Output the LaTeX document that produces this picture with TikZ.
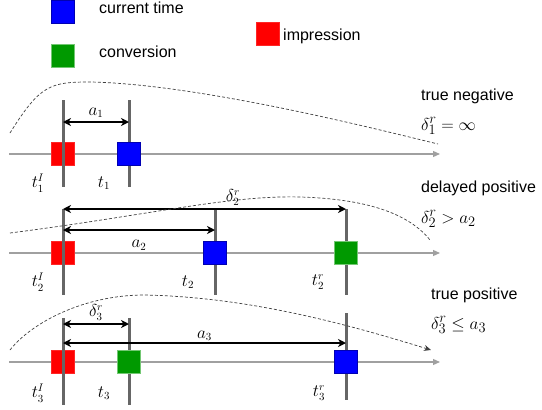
\documentclass[tikz,border=0pt]{standalone}
\usepackage{fontspec}
\setsansfont{Liberation Sans}
\usetikzlibrary{positioning,arrows.meta,backgrounds}
\definecolor{impred}{HTML}{FF0000}
\definecolor{curblue}{HTML}{0000FF}
\definecolor{convgreen}{HTML}{009900}
\definecolor{axisgray}{HTML}{A0A0A0}
\definecolor{bargray}{HTML}{666666}

\begin{document}
\begin{tikzpicture}[x=1pt, y=-1pt,
  sq/.style={minimum size=23pt, inner sep=0pt, line width=0.6pt},
  imp/.style={sq, fill=impred, draw=impred!85},
  cur/.style={sq, fill=curblue, draw=curblue!70!black},
  conv/.style={sq, fill=convgreen, draw=convgreen!55!white},
  axis/.style={draw=axisgray, line width=1.2pt, -{Triangle[length=7pt, width=6pt]}},
  bar/.style={draw=bargray, line width=3pt},
  dim/.style={{Stealth[length=8pt, width=8pt, inset=2.5pt]}-{Stealth[length=8pt, width=8pt, inset=2.5pt]}, line width=1.4pt},
  guess/.style={draw=black!75, line width=0.7pt, dash pattern=on 3pt off 2pt},
  lbl/.style={font=\fontsize{16}{18}\selectfont, inner sep=1.5pt},
  txt/.style={font=\sffamily\fontsize{16}{19}\selectfont, anchor=base west, inner sep=0pt},
  res/.style={font=\fontsize{19}{22}\selectfont, anchor=base west, inner sep=0pt}
]
\useasboundingbox (0,0) rectangle (542,410);

% legend
\node[cur] (legcur) at (63,11.5) {};
\node[conv] (legconv) at (63,56) {};
\node[imp] (legimp) at (267.5,34) {};
\node[txt] (txtcur) at (99,13) {current time};
\node[txt] (txtconv) at (99,57) {conversion};
\node[txt] (txtimp) at (283,40) {impression};

% event squares
\node[imp] (imp1) at (63,154) {};
\node[cur] (cur1) at (129,154) {};
\node[imp] (imp2) at (63,253) {};
\node[cur] (cur2) at (215,253) {};
\node[conv] (conv2) at (346,253) {};
\node[imp] (imp3) at (63,362) {};
\node[conv] (conv3) at (129,362) {};
\node[cur] (cur3) at (346,362) {};

% time axes and the bars hidden behind the squares
\begin{scope}[on background layer]
\draw[axis] (9,154) -- (440,154);
\draw[axis] (9,253) -- (440,253);
\draw[axis] (9,362) -- (440,362);
\draw[bar] ([yshift=54pt]cur1.center) -- ([yshift=-33pt]cur1.center);
\draw[bar] ([yshift=44pt]cur2.center) -- ([yshift=-42pt]cur2.center);
\draw[bar] ([yshift=44pt]conv2.center) -- ([yshift=-42pt]conv2.center);
\draw[bar] ([yshift=44pt]conv3.center) -- ([yshift=-43pt]conv3.center);
\draw[bar] ([yshift=49pt]cur3.center) -- ([yshift=-38pt]cur3.center);
\end{scope}

% impression bars stay on top
\draw[bar] ([yshift=54pt]imp1.center) -- ([yshift=-33pt]imp1.center);
\draw[bar] ([yshift=44pt]imp2.center) -- ([yshift=-42pt]imp2.center);
\draw[bar] ([yshift=44pt]imp3.center) -- ([yshift=-43pt]imp3.center);

% intervals
\coordinate (a1) at (63,122);
\coordinate (d2) at (63,209);
\coordinate (a2) at (63,230);
\coordinate (d3) at (63,324);
\coordinate (a3) at (63,343);
\draw[dim] (a1) -- node[lbl, above=2pt] {$a_1$} (a1 -| cur1);
\draw[dim] (d2) -- node[lbl, above=1pt, pos=0.6] {$\delta_2^r$} (d2 -| conv2);
\draw[dim] (a2) -- node[lbl, below=8pt] {$a_2$} (a2 -| cur2);
\draw[dim] (d3) -- node[lbl, above=1pt] {$\delta_3^r$} (d3 -| conv3);
\draw[dim] (a3) -- node[lbl, above=0pt] {$a_3$} (a3 -| cur3);

% dashed guesses
\draw[guess] (10,133) .. controls (40,85) and (50,82) .. (90,82)
  .. controls (200,84) and (380,130) .. (438,144);
\draw[guess] (10,233) .. controls (150,215) and (230,195) .. (300,197)
  .. controls (370,199) and (410,215) .. (430,240);
\draw[guess, -{Stealth[length=7pt, width=6pt]}] (10,350) .. controls (32,322) and (85,295) .. (144,295)
  .. controls (250,297) and (350,325) .. (431,350);

% time labels
\node[lbl] (t1i) at ([shift={(-25pt,-29pt)}]imp1.center) {$t_1^I$};
\node[lbl] (t1) at ([shift={(-25pt,-29pt)}]cur1.center) {$t_1$};
\node[lbl] (t2i) at ([shift={(-25pt,-29pt)}]imp2.center) {$t_2^I$};
\node[lbl] (t2) at ([shift={(-27pt,-29pt)}]cur2.center) {$t_2$};
\node[lbl] (t2r) at ([shift={(-28pt,-29pt)}]conv2.center) {$t_2^r$};
\node[lbl] (t3i) at ([shift={(-25pt,-31pt)}]imp3.center) {$t_3^I$};
\node[lbl] (t3) at ([shift={(-25pt,-31pt)}]conv3.center) {$t_3$};
\node[lbl] (t3r) at ([shift={(-27pt,-31pt)}]cur3.center) {$t_3^r$};

% outcomes
\node[txt] (neg) at (421,100) {true negative};
\node[res] (res1) at (421,130) {$\delta_1^r = \infty$};
\node[txt] (del) at (421,192) {delayed positive};
\node[res] (res2) at (421,223) {$\delta_2^r > a_2$};
\node[txt] (pos) at (431,299) {true positive};
\node[res] (res3) at (431,329) {$\delta_3^r \leq a_3$};
\end{tikzpicture}
\end{document}
